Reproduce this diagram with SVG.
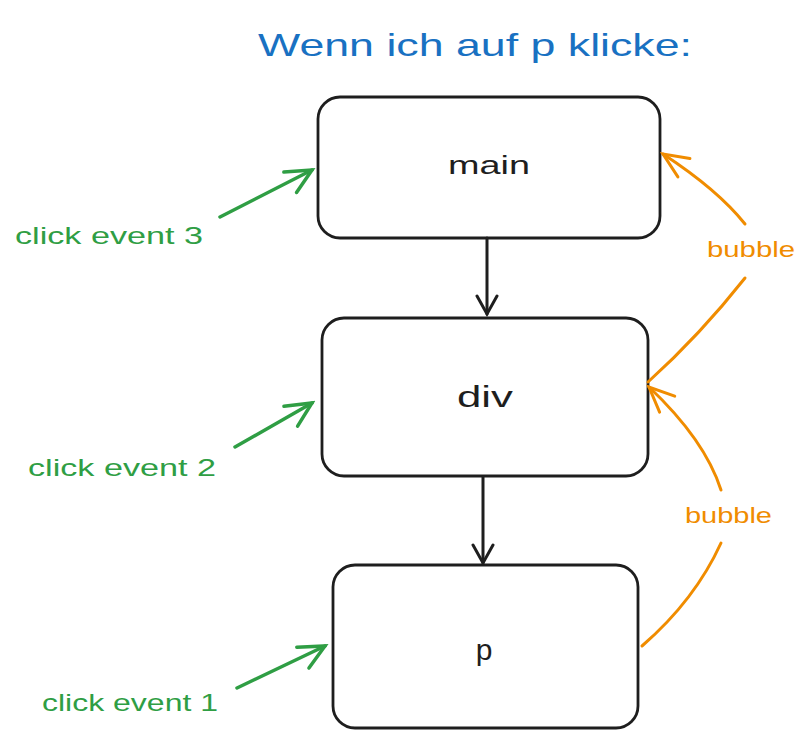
<svg xmlns="http://www.w3.org/2000/svg" width="800" height="744" viewBox="0 0 800 744">
<style>
.box{fill:none;stroke:#1e1e1e;stroke-width:2.8}
.lbl{font-family:"Liberation Sans",Arial,sans-serif;fill:#1e1e1e;text-anchor:middle}
.blk{fill:none;stroke:#1e1e1e;stroke-width:3;stroke-linecap:round}
.grn{fill:none;stroke:#2f9e44;stroke-width:3.5;stroke-linecap:round}
.org{fill:none;stroke:#f08c00;stroke-width:3;stroke-linecap:round}
.gt{font-family:"Liberation Sans",Arial,sans-serif;fill:#2f9e44;font-size:24px}
.ot{font-family:"Liberation Sans",Arial,sans-serif;fill:#f08c00;font-size:22px}
</style>
<defs>
<marker id="ab" viewBox="-20 -12 24 24" refX="0" refY="0" markerWidth="24" markerHeight="24" markerUnits="userSpaceOnUse" orient="auto">
<path d="M-18,-10 L0,0 L-18,10" fill="none" stroke="#1e1e1e" stroke-width="3" stroke-linecap="round"/>
</marker>
<marker id="ag" viewBox="-30 -15 34 30" refX="0" refY="0" markerWidth="34" markerHeight="30" markerUnits="userSpaceOnUse" orient="auto">
<path d="M-26,-11 L0,0 L-24,13" fill="none" stroke="#2f9e44" stroke-width="3.5" stroke-linecap="round"/>
</marker>
<marker id="ao" viewBox="-30 -15 34 30" refX="0" refY="0" markerWidth="34" markerHeight="30" markerUnits="userSpaceOnUse" orient="auto">
<path d="M-25,-11 L0,0 L-25,11" fill="none" stroke="#f08c00" stroke-width="3" stroke-linecap="round"/>
</marker>
</defs>
<rect width="800" height="744" fill="#ffffff"/>
<text x="258" y="56" font-family="Liberation Sans,Arial,sans-serif" font-size="32" fill="#1971c2" textLength="434" lengthAdjust="spacingAndGlyphs">Wenn ich auf p klicke:</text>
<g id="main">
<rect class="box" x="318" y="97" width="342" height="141" rx="22"/>
<text class="lbl" x="489" y="174" font-size="26" textLength="82" lengthAdjust="spacingAndGlyphs">main</text>
</g>
<g id="div">
<rect class="box" x="322" y="318" width="326" height="158" rx="22"/>
<text class="lbl" x="485" y="407" font-size="30" textLength="56" lengthAdjust="spacingAndGlyphs">div</text>
</g>
<g id="p">
<rect class="box" x="333" y="565" width="305" height="163" rx="22"/>
<text class="lbl" x="484" y="660" font-size="30">p</text>
</g>
<g id="connectors">
<path class="blk" d="M487,238 L487,314" marker-end="url(#ab)"/>
<path class="blk" d="M483,477 L483,563" marker-end="url(#ab)"/>
<path class="grn" d="M220,217 L312,170" marker-end="url(#ag)"/>
<path class="grn" d="M235,447 L312,403" marker-end="url(#ag)"/>
<path class="grn" d="M237,688 L325,646" marker-end="url(#ag)"/>
<path class="org" d="M648,382 Q700,335 745,278"/>
<path class="org" d="M745,224 Q718,190 663,154" marker-end="url(#ao)"/>
<path class="org" d="M642,646 Q695,600 721,543"/>
<path class="org" d="M721,490 Q705,440 649,387" marker-end="url(#ao)"/>
</g>
<text class="gt" x="15" y="244" textLength="188" lengthAdjust="spacingAndGlyphs">click event 3</text>
<text class="gt" x="28" y="476" textLength="188" lengthAdjust="spacingAndGlyphs">click event 2</text>
<text class="gt" x="42" y="711" textLength="176" lengthAdjust="spacingAndGlyphs">click event 1</text>
<text class="ot" x="707" y="257" textLength="88" lengthAdjust="spacingAndGlyphs">bubble</text>
<text class="ot" x="685" y="523" textLength="87" lengthAdjust="spacingAndGlyphs">bubble</text>
</svg>
